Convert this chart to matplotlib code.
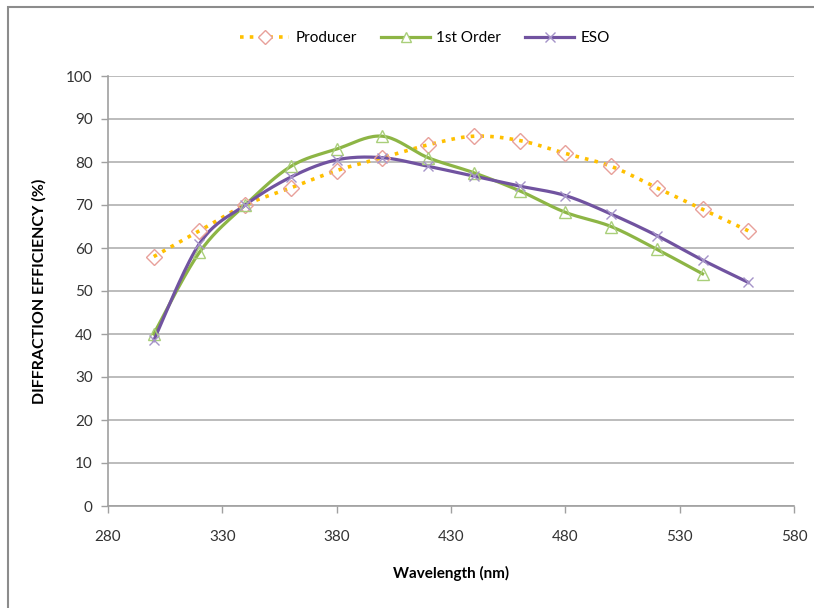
import numpy as np
import matplotlib
matplotlib.use("Agg")
import matplotlib.pyplot as plt
from matplotlib.patches import Rectangle

plt.rcParams['font.family'] = ['Lato', 'DejaVu Sans']

# data
wavelength = [300, 320, 340, 360, 380, 400, 420, 440, 460, 480, 500, 520, 540, 560]
producer = [58, 64, 70, 74, 78, 81, 84, 86, 85, 82, 79, 74, 69, 64]
wl_first = [300, 320, 340, 360, 380, 400, 420, 440, 460, 480, 500, 520, 540]
first_order = [40, 59, 70, 79, 83, 86, 81, 77.5, 73.3, 68.3, 65, 59.7, 54]
eso = [38.5, 61, 70, 76.5, 80.5, 81, 79, 76.7, 74.4, 72.2, 67.9, 62.9, 57.2, 52]


def smooth(x, y, n=20):
    # excel-like smoothed line (catmull-rom through the points)
    x = np.asarray(x, float)
    y = np.asarray(y, float)
    px = np.concatenate([[x[0]], x, [x[-1]]])
    py = np.concatenate([[y[0]], y, [y[-1]]])
    xs, ys = [], []
    t = np.linspace(0, 1, n, endpoint=False)
    for i in range(1, len(px) - 2):
        p0, p1, p2, p3 = [np.array([px[j], py[j]]) for j in range(i - 1, i + 3)]
        c1 = p1 + (p2 - p0) / 6
        c2 = p2 - (p3 - p1) / 6
        b = ((1 - t) ** 3)[:, None] * p1 + (3 * (1 - t) ** 2 * t)[:, None] * c1 \
            + (3 * (1 - t) * t ** 2)[:, None] * c2 + (t ** 3)[:, None] * p2
        xs.extend(b[:, 0])
        ys.extend(b[:, 1])
    xs.append(x[-1])
    ys.append(y[-1])
    return xs, ys


fig = plt.figure(figsize=(8.14, 6.08), dpi=100)
fig.patches.append(Rectangle((8 / 814, -0.1), 1.1, 1 - 7 / 608 + 0.1,
                             transform=fig.transFigure, fill=False,
                             edgecolor='#8c8c8c', linewidth=1.5))

ax = fig.add_axes([108 / 814, 1 - 506 / 608, 686 / 814, 430 / 608])

c_prod = '#FFC000'
c_first = '#8DB545'
c_eso = '#7153A0'
dots = (0, (1, 1.7))

sx, sy = smooth(wavelength, producer)
ax.plot(sx, sy, color=c_prod, linestyle=dots, linewidth=2.6, zorder=3)
ax.plot(wavelength, producer, linestyle='none', marker='D', markersize=8,
        markerfacecolor='none', markeredgecolor='#E8A09A', markeredgewidth=1, zorder=4)

sx, sy = smooth(wl_first, first_order)
ax.plot(sx, sy, color=c_first, linewidth=2.3, zorder=3)
ax.plot(wl_first, first_order, linestyle='none', marker='^', markersize=8,
        markerfacecolor='none', markeredgecolor='#A9CF7A', markeredgewidth=1, zorder=4)

sx, sy = smooth(wavelength, eso)
ax.plot(sx, sy, color=c_eso, linewidth=2.3, zorder=3)
ax.plot(wavelength, eso, linestyle='none', marker='x', markersize=7,
        markeredgecolor='#A593C8', markeredgewidth=1, zorder=4)

# legend proxies
h1, = ax.plot([], [], color=c_prod, linestyle=dots, linewidth=2.6, marker='D',
              markersize=7, markerfacecolor='white', markeredgecolor='#E8A09A')
h2, = ax.plot([], [], color=c_first, linewidth=2.3, marker='^', markersize=7,
              markerfacecolor='white', markeredgecolor='#A9CF7A')
h3, = ax.plot([], [], color=c_eso, linewidth=2.3, marker='x', markersize=7,
              markeredgecolor='#A593C8')
fig.legend([h1, h2, h3], ['Producer', '1st Order', 'ESO'], loc='center',
           bbox_to_anchor=(425 / 814, 1 - 38 / 608), ncol=3, frameon=False,
           fontsize=11, handlelength=3.2, columnspacing=1.6, handletextpad=0.4)

ax.set_xlim(280, 580)
ax.set_ylim(0, 100)
ax.set_xticks(np.arange(280, 581, 50))
ax.set_yticks(np.arange(0, 101, 10))
ax.yaxis.grid(True, color='#b0b0b0', linewidth=1.2)
ax.set_axisbelow(True)
for s in ['top', 'right']:
    ax.spines[s].set_visible(False)
for s in ['left', 'bottom']:
    ax.spines[s].set_color('#a0a0a0')
    ax.spines[s].set_linewidth(1.2)
ax.tick_params(axis='both', colors='#a0a0a0', labelcolor='#333333', labelsize=11,
               length=5, width=1)
ax.tick_params(axis='x', pad=12)
ax.tick_params(axis='y', pad=6)

ax.set_xlabel('Wavelength (nm)', fontsize=11, fontweight='bold', labelpad=16)
ax.set_ylabel('DIFFRACTION EFFICIENCY (%)', fontsize=11.5, fontweight='bold', labelpad=14)

fig.savefig('out.png', dpi=100)
